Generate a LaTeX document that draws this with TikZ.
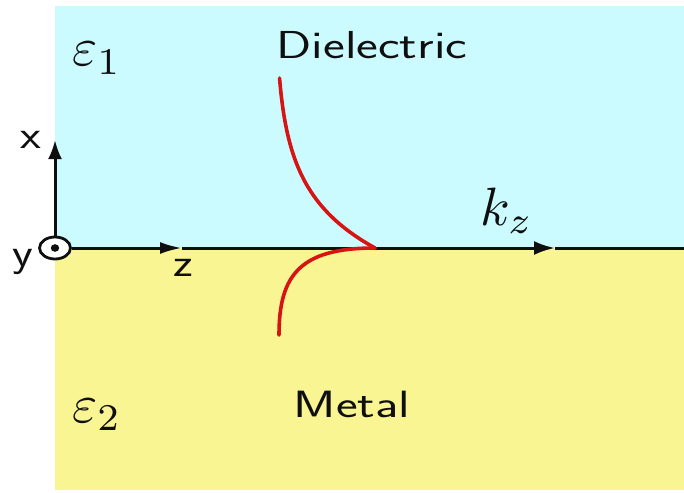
\documentclass[tikz,border=0pt]{standalone}
\usepackage{fontspec}
\usepackage{graphicx}
\usetikzlibrary{arrows.meta,shapes.geometric}
\definecolor{dielec}{RGB}{204,251,255}
\definecolor{metalc}{RGB}{248,245,146}
\definecolor{wave}{RGB}{215,20,20}
\definecolor{ink}{RGB}{15,15,15}
\begin{document}
\begin{tikzpicture}[x=1pt,y=-1pt,
  sanslbl/.style={inner sep=0pt,text=ink,font=\fontsize{39}{40}\selectfont\sffamily},
  axislbl/.style={inner sep=0pt,text=ink,font=\fontsize{40}{42}\selectfont\sffamily},
  mathlbl/.style={inner sep=0pt,text=ink,anchor=base west},
  axis/.style={line width=3pt,draw=ink},
  ztip/.style={-{Latex[length=22pt,width=12pt]}},
  ktip/.style={-{Latex[length=21pt,width=14pt]}},
  xtip/.style={-{Latex[length=19pt,width=14pt]}},
  wavecurve/.style={draw=wave,line width=3.6pt,line cap=round}]
\useasboundingbox (0,0) rectangle (684,492);
\fill[dielec] (55,6) rectangle (684,248);
\fill[metalc] (55,248) rectangle (684,490);

% axes
\node[ellipse,draw=ink,line width=2.8pt,minimum width=31pt,minimum height=22pt,inner sep=0pt,fill=white] (o) at (55,248) {};
\fill[ink] (o.center) ellipse [x radius=4.2pt,y radius=3.8pt];
\coordinate (xend) at (55,140);
\coordinate (zend) at (182,248);
\coordinate (kend) at (555,248);
\coordinate (rend) at (684,248);
\draw[axis,xtip] (o.north) -- (xend);
\draw[axis,ztip] (o.east) -- (zend);
\draw[axis,ktip] (zend) -- (kend);
\draw[axis] (kend) -- (rend);

% field profile
\coordinate (tipw) at (375,248);
\coordinate (lowend) at (279,335);
\draw[wavecurve] plot[domain=0:170,samples=90,variable=\d] ({275+100*exp(-\d/55)},{248-\d});
\draw[wavecurve] (tipw) .. controls (300,248) and (279,275) .. (lowend);

% labels
\node[sanslbl,anchor=base] (diel) at (372,59) {\scalebox{1.33}[1]{Dielectric}};
\node[sanslbl,anchor=base,font=\fontsize{38}{40}\selectfont\sffamily] (metal) at (352,417) {\scalebox{1.36}[1]{Metal}};
\node[mathlbl] (eps1) at (72,66) {\scalebox{5.4}{$\varepsilon_1$}};
\node[mathlbl] (eps2) at (72,422) {\scalebox{5.4}{$\varepsilon_2$}};
\node[mathlbl] (kz) at (480,225) {\scalebox{5.4}{$k_z$}};
\node[axislbl] (xl) at (31,140) {\scalebox{1.2}[1]{x}};
\node[axislbl] (yl) at (23,262) {\scalebox{1.2}[1]{y}};
\node[axislbl] (zl) at (183,268) {\scalebox{1.2}[1]{z}};
\end{tikzpicture}
\end{document}
